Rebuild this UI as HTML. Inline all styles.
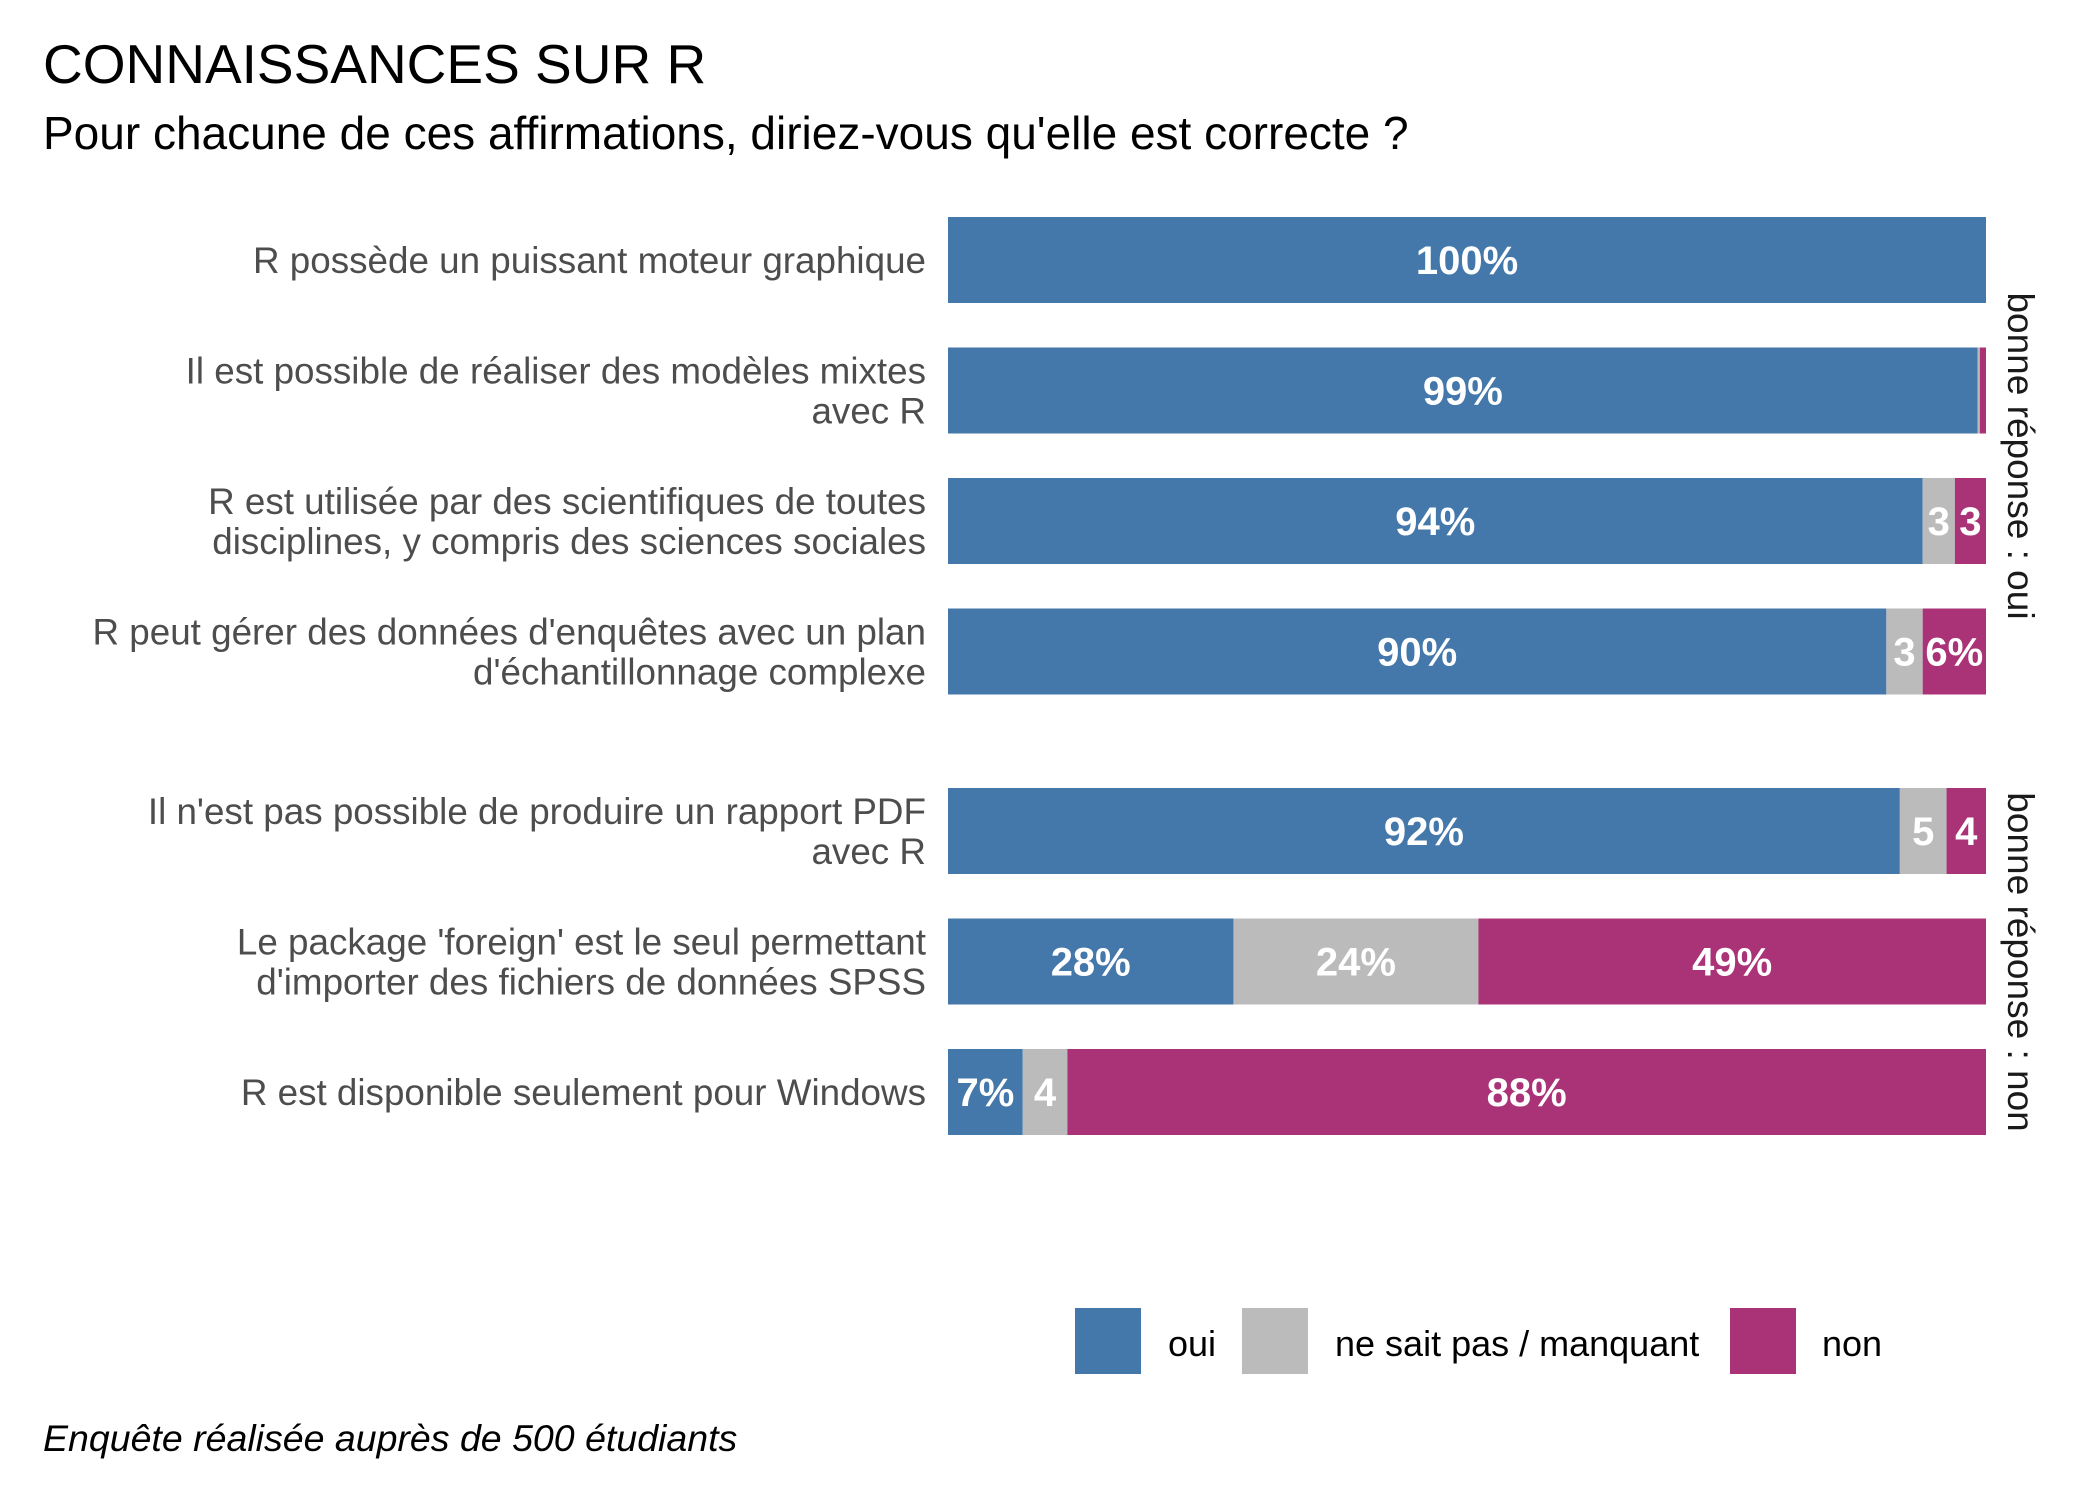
<!DOCTYPE html>
<html><head><meta charset="utf-8"><style>
html,body{margin:0;padding:0;background:#fff;}
svg{display:block;font-family:"Liberation Sans",Arial,sans-serif;}
</style></head><body>
<svg id="chart" width="2100" height="1500" viewBox="0 0 2100 1500">
<text x="43" y="83" font-size="55" fill="#000">CONNAISSANCES SUR R</text>
<text x="43" y="149" font-size="46" fill="#000">Pour chacune de ces affirmations, diriez-vous qu'elle est correcte ?</text>
<g id="bars"></g>
<g id="labels"></g>
<text transform="translate(2008,456) rotate(90)" text-anchor="middle" font-size="37" fill="#1a1a1a">bonne réponse : oui</text>
<text transform="translate(2008,962) rotate(90)" text-anchor="middle" font-size="37" fill="#1a1a1a">bonne réponse : non</text>
<g>
<rect x="1075" y="1308" width="66" height="66" fill="#4477AA"/>
<text x="1168" y="1356" font-size="36" fill="#000">oui</text>
<rect x="1242" y="1308" width="66" height="66" fill="#BBBBBB"/>
<text x="1335" y="1356" font-size="36" fill="#000">ne sait pas / manquant</text>
<rect x="1730" y="1308" width="66" height="66" fill="#AA3377"/>
<text x="1822" y="1356" font-size="36" fill="#000">non</text>
</g>
<text x="43" y="1451" font-size="37.5" font-style="italic" fill="#000">Enquête réalisée auprès de 500 étudiants</text>
</svg>
<script>
const categories = [
  ["R possède un puissant moteur graphique"],
  ["Il est possible de réaliser des modèles mixtes","avec R"],
  ["R est utilisée par des scientifiques de toutes","disciplines, y compris des sciences sociales"],
  ["R peut gérer des données d'enquêtes avec un plan","d'échantillonnage complexe"],
  ["Il n'est pas possible de produire un rapport PDF","avec R"],
  ["Le package 'foreign' est le seul permettant","d'importer des fichiers de données SPSS"],
  ["R est disponible seulement pour Windows"]
];
const ouiValues = [100, 99.2, 93.9, 90.4, 91.7, 27.5, 7.2];
const nspValues = [0, 0.2, 3.1, 3.5, 4.5, 23.6, 4.3];
const nonValues = [0, 0.6, 3.0, 6.1, 3.8, 48.9, 88.5];
const ouiLabels = ["100%","99%","94%","90%","92%","28%","7%"];
const nspLabels = ["","","3","3","5","24%","4"];
const nonLabels = ["","","3","6%","4","49%","88%"];
const groups = [0,0,0,0,1,1,1];
const seriesNames = ["oui","nsp","non"];
const colors = ["#4477AA","#BBBBBB","#AA3377"];

const NS = "http://www.w3.org/2000/svg";
const x0 = 948, x1 = 1986;
function xScale(v){ return x0 + (x1 - x0) * v / 100; }
const barH = 86, pitch = 130.5, groupGap = 49, top0 = 217;
function yScale(i){ return top0 + i * pitch + groups[i] * groupGap; }

const barsG = document.getElementById('bars');
const labG = document.getElementById('labels');
const series = [ouiValues, nspValues, nonValues];
const labs = [ouiLabels, nspLabels, nonLabels];

categories.forEach((cat, i) => {
  const y = yScale(i);
  let cum = 0;
  series.forEach((arr, s) => {
    const v = arr[i];
    const xa = xScale(cum), xb = xScale(cum + v);
    cum += v;
    if (v <= 0) return;
    const r = document.createElementNS(NS, 'rect');
    r.setAttribute('x', xa); r.setAttribute('y', y);
    r.setAttribute('width', xb - xa); r.setAttribute('height', barH);
    r.setAttribute('fill', colors[s]);
    
    
    barsG.appendChild(r);
    const lbl = labs[s][i];
    if (lbl) {
      const t = document.createElementNS(NS, 'text');
      t.setAttribute('x', (xa + xb) / 2);
      t.setAttribute('y', y + barH / 2 + 14);
      t.setAttribute('text-anchor', 'middle');
      t.setAttribute('font-size', '40');
      t.setAttribute('font-weight', 'bold');
      t.setAttribute('fill', '#fff');
      t.textContent = lbl;
      
      
      barsG.appendChild(t);
    }
  });
  const lines = cat;
  const lh = 40;
  const cy = y + barH / 2;
  const firstBase = cy + 13 - (lines.length - 1) * lh / 2;
  const t = document.createElementNS(NS, 'text');
  t.setAttribute('text-anchor', 'end');
  t.setAttribute('font-size', '36.8');
  t.setAttribute('fill', '#4d4d4d');
  
  
  lines.forEach((ln, k) => {
    const ts = document.createElementNS(NS, 'tspan');
    ts.setAttribute('x', 926);
    ts.setAttribute('y', firstBase + k * lh);
    ts.textContent = ln;
    t.appendChild(ts);
  });
  labG.appendChild(t);
});
</script>
</body></html>
